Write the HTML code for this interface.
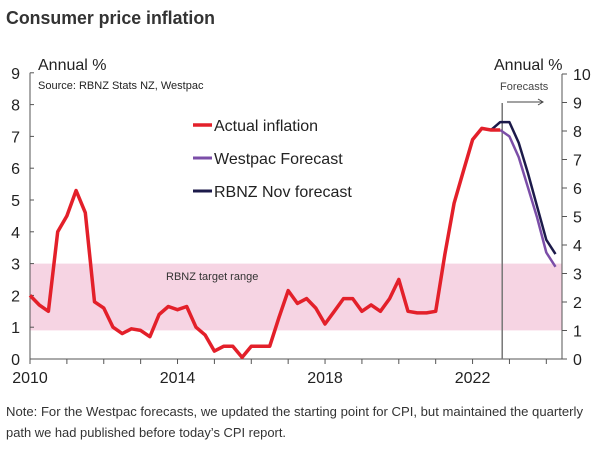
<!DOCTYPE html>
<html><head><meta charset="utf-8"><style>
html,body{margin:0;padding:0;background:#fff}
svg{display:block;font-family:"Liberation Sans",sans-serif}
</style></head><body>
<svg id="chart" width="600" height="453" viewBox="0 0 600 453" xmlns="http://www.w3.org/2000/svg">
<text x="6" y="24" font-size="18" font-weight="bold" fill="#333" textLength="209" lengthAdjust="spacingAndGlyphs">Consumer price inflation</text>
<rect id="band" x="30" width="532" fill="#f6d4e3"/>
<text x="166" y="280" font-size="11" fill="#333">RBNZ target range</text>
<text x="38" y="70" font-size="16" fill="#222">Annual %</text>
<text x="494" y="70" font-size="16" fill="#222">Annual %</text>
<text x="38" y="89" font-size="11" fill="#222">Source: RBNZ Stats NZ, Westpac</text>
<text x="500" y="90" font-size="11" fill="#444">Forecasts</text>
<line x1="507" y1="102" x2="543" y2="102" stroke="#444" stroke-width="1"/>
<path d="M538,99 L543,102 L538,105" fill="none" stroke="#444"/>
<g id="axes"></g>
<g id="series"></g>
<g>
<line x1="193" y1="125" x2="212" y2="125" stroke="#e3202a" stroke-width="3.5"/>
<text x="214" y="131" font-size="16" fill="#222">Actual inflation</text>
<line x1="193" y1="158" x2="212" y2="158" stroke="#7b4ea8" stroke-width="3"/>
<text x="214" y="164" font-size="16" fill="#222">Westpac Forecast</text>
<line x1="193" y1="191" x2="212" y2="191" stroke="#1c1a4a" stroke-width="3"/>
<text x="214" y="197" font-size="16" fill="#222">RBNZ Nov forecast</text>
</g>
<text x="6" y="416" font-size="12.5" fill="#333" textLength="577" lengthAdjust="spacingAndGlyphs">Note: For the Westpac forecasts, we updated the starting point for CPI, but maintained the quarterly</text>
<text x="6" y="437" font-size="12.5" fill="#333" textLength="280" lengthAdjust="spacingAndGlyphs">path we had published before today’s CPI report.</text>
</svg>
<script>
const actual=[2.0,1.7,1.5,4.0,4.5,5.3,4.6,1.8,1.6,1.0,0.8,0.95,0.9,0.7,1.4,1.65,1.55,1.65,1.0,0.75,0.25,0.4,0.4,0.05,0.4,0.4,0.4,1.3,2.15,1.75,1.9,1.6,1.1,1.5,1.9,1.9,1.5,1.7,1.5,1.9,2.5,1.5,1.45,1.45,1.5,3.3,4.9,5.9,6.9,7.25,7.2,7.2];
const westpac=[7.2,7.0,6.35,5.4,4.45,3.35,2.9];
const westpacStart=51;
const rbnz=[7.2,7.45,7.45,6.8,5.85,4.8,3.75,3.3];
const rbnzStart=50;
const leftTicks=[0,1,2,3,4,5,6,7,8,9];
const rightTicks=[0,1,2,3,4,5,6,7,8,9,10];
const yearLabels=[2010,2014,2018,2022];
const bandRange=[0.9,3.0];
const NS="http://www.w3.org/2000/svg";
const X0=30,XR=562,Y0=359,PXQ=9.22;
const yL=v=>Y0-v*31.8;
const yR=v=>Y0-v*28.5;
const xQ=i=>X0+i*PXQ;
const xYear=y=>xQ((y-2010)*4);
function mk(tag,attrs,parent){const e=document.createElementNS(NS,tag);for(const k in attrs)e.setAttribute(k,attrs[k]);parent.appendChild(e);return e;}
const band=document.getElementById('band');
band.setAttribute('y',yL(bandRange[1]));band.setAttribute('height',yL(bandRange[0])-yL(bandRange[1]));
const ax=document.getElementById('axes');
let l=mk('line',{x1:X0,y1:Y0,x2:X0,y2:yL(9),stroke:'#555','stroke-width':1},ax);


l=mk('line',{x1:XR,y1:Y0,x2:XR,y2:yR(10),stroke:'#555','stroke-width':1},ax);


l=mk('line',{x1:X0,y1:Y0,x2:XR,y2:Y0,stroke:'#555','stroke-width':1},ax);


leftTicks.forEach(v=>{
 const t=mk('line',{x1:X0,y1:yL(v),x2:X0+4,y2:yL(v),stroke:'#555'},ax);
 
 
 const s=mk('text',{x:X0-10,y:yL(v)+6,'font-size':16,'text-anchor':'end',fill:'#222'},ax);
 s.textContent=v;
 
 
});
rightTicks.forEach(v=>{
 const t=mk('line',{x1:XR,y1:yR(v),x2:XR+5,y2:yR(v),stroke:'#555'},ax);
 
 
 const s=mk('text',{x:XR+11,y:yR(v)+6,'font-size':16,fill:'#222'},ax);
 s.textContent=v;
 
 
});
for(let y=2010;y<=2024;y++){
 const t=mk('line',{x1:xYear(y),y1:Y0,x2:xYear(y),y2:Y0+5,stroke:'#555'},ax);
 
 
}
yearLabels.forEach(y=>{
 const s=mk('text',{x:xYear(y),y:Y0+24,'font-size':16,'text-anchor':'middle',fill:'#222'},ax);
 s.textContent=y;
 
 
});
const sg=document.getElementById('series');
const vl=mk('line',{x1:xQ(51)+2,y1:yL(0),x2:xQ(51)+2,y2:yL(8.05),stroke:'#777','stroke-width':1.5},sg);


function line(vals,start,color,w,name){
 const d=vals.map((v,i)=>(i?'L':'M')+xQ(start+i).toFixed(1)+','+yL(v).toFixed(1)).join(' ');
 const p=mk('path',{d:d,fill:'none',stroke:color,'stroke-width':w,'stroke-linejoin':'round'},sg);
 
 
}
line(rbnz,rbnzStart,'#1c1a4a',2.5,'rbnz-forecast-line');
line(westpac,westpacStart,'#7b4ea8',2.5,'westpac-forecast-line');
line(actual,0,'#e3202a',3.5,'actual-inflation-line');
</script>
</body></html>
